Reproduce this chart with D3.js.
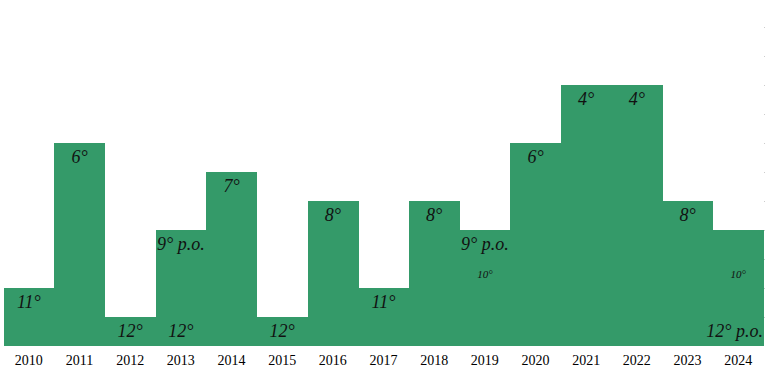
<!DOCTYPE html>
<html>
<head>
<meta charset="utf-8">
<script src="https://cdn.jsdelivr.net/npm/d3@7"></script>
<style>
  body { margin: 0; background: white; }
</style>
</head>
<body>
<div id="chart"></div>
<script>
// Final league position per season (lower = better, bar is taller)
var years = ["2010", "2011", "2012", "2013", "2014", "2015", "2016", "2017", "2018", "2019", "2020", "2021", "2022", "2023", "2024"];
var ranks = [11, 6, 12, 9, 7, 12, 8, 11, 8, 9, 6, 4, 4, 8, 9];

// Text labels placed at a rank level inside a season's bar
var labelYears = ["2010", "2011", "2012", "2013", "2013", "2014", "2015", "2016", "2017", "2018", "2019", "2019", "2020", "2021", "2022", "2023", "2024", "2024"];
var labelRanks = [11, 6, 12, 9, 12, 7, 12, 8, 11, 8, 9, 10, 6, 4, 4, 8, 12, 10];
var labelTexts = ["11°", "6°", "12°", "9° p.o.", "12°", "7°", "12°", "8°", "11°", "8°", "9° p.o.", "10°", "6°", "4°", "4°", "8°", "12° p.o.", "10°"];
var labelSmall = [false, false, false, false, false, false, false, false, false, false, false, true, false, false, false, false, false, true];

var rankLevels = [1, 2, 3, 4, 5, 6, 7, 8, 9, 10, 11, 12];

var width = 765;
var height = 370;
var margin = { top: 0, right: 1.5, bottom: 24, left: 3.5 };

var svg = d3.select("#chart")
    .append("svg")
    .attr("width", width)
    .attr("height", height);

var x = d3.scaleBand()
    .domain(years)
    .range([margin.left, width - margin.right])
    .padding(0);

// rank 13 = baseline, rank 1 = top
var y = d3.scaleLinear()
    .domain([13, 1])
    .range([height - margin.bottom, height - margin.bottom - 12 * 29]);

// faint ticks on the right edge
svg.append("g")
    .attr("transform", `translate(${width - 1}, 0)`)
    .call(d3.axisRight(y).tickValues(rankLevels.slice(1)).tickSize(2).tickFormat(""))
    .call(g => g.select(".domain").remove())
    .selectAll("line")
    .attr("stroke", "#cccccc");

svg.selectAll(".bar")
    .data(years)
    .enter()
    .append("rect")
    .attr("class", "bar")
    .attr("x", d => x(d))
    .attr("y", (d, i) => y(ranks[i]))
    .attr("width", x.bandwidth() + 0.6)
    .attr("height", (d, i) => y(13) - y(ranks[i]))
    .attr("fill", "#349a69")
    .attr("shape-rendering", "crispEdges");

// the last column's label sits against the right edge
function labelX(i) {
    var cx = x(labelYears[i]) + x.bandwidth() / 2;
    return labelYears[i] === "2024" && !labelSmall[i] ? width - 2 : cx;
}

svg.selectAll(".lbl")
    .data(labelTexts)
    .enter()
    .append("text")
    .attr("class", "lbl")
    .attr("x", (d, i) => labelX(i))
    .attr("y", (d, i) => y(labelRanks[i]) + (labelSmall[i] ? 19 : 20))
    .attr("text-anchor", (d, i) => labelYears[i] === "2024" && !labelSmall[i] ? "end" : "middle")
    .style("font-family", "'Liberation Serif', serif")
    .style("font-style", "italic")
    .style("font-size", (d, i) => labelSmall[i] ? "11px" : "18px")
    .style("fill", "#111")
    .text(d => d);

// x axis, labels only
svg.append("g")
    .attr("transform", `translate(0, ${height - margin.bottom})`)
    .call(d3.axisBottom(x).tickSize(0).tickPadding(9))
    .call(g => g.select(".domain").remove())
    .selectAll("text")
    .style("font-family", "'Liberation Serif', serif")
    .style("font-size", "14px")
    .style("fill", "#000");
</script>
</body>
</html>
